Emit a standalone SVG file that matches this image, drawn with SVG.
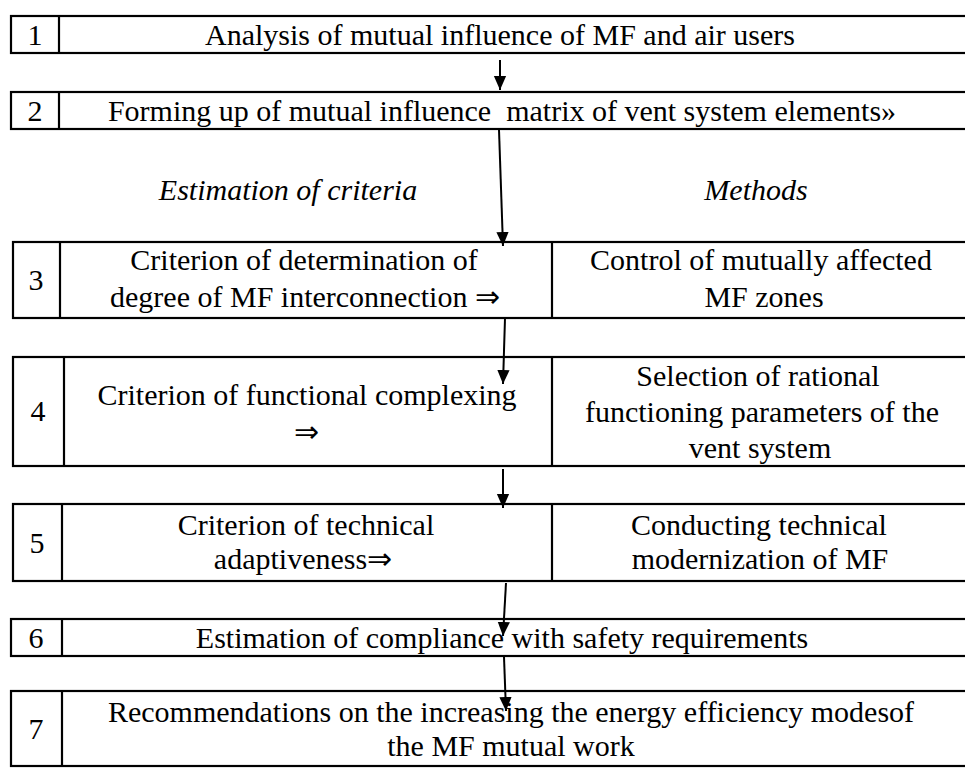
<svg xmlns="http://www.w3.org/2000/svg" width="965" height="768" viewBox="0 0 965 768">
<defs>
<style>
.box{fill:#fff;stroke:#000;stroke-width:2.2}
.div{stroke:#000;stroke-width:2.2}
.t{font-family:"Liberation Serif","Times New Roman",serif;font-size:30px;fill:#000;text-anchor:middle}
.it{font-style:italic}
.con{stroke:#000;stroke-width:2;fill:none;marker-end:url(#ah)}
</style>
<marker id="ah" markerUnits="userSpaceOnUse" markerWidth="14" markerHeight="16" refX="16" refY="7" orient="auto" viewBox="0 0 16 14">
<path d="M0,0 L16,7 L0,14 z" fill="#000"/>
</marker>
</defs>
<rect width="965" height="768" fill="#fff"/>
<g id="node1">
<rect class="box" x="11" y="16" width="970" height="37"/>
<line class="div" x1="59" y1="16" x2="59" y2="53"/>
<text class="t" x="35" y="45">1</text>
<text class="t" x="500" y="45">Analysis of mutual influence of MF and air users</text>
</g>
<g id="node2">
<rect class="box" x="11" y="92" width="970" height="37"/>
<line class="div" x1="59" y1="92" x2="59" y2="129"/>
<text class="t" x="35" y="121">2</text>
<text class="t" x="502" y="121" xml:space="preserve">Forming up of mutual influence  matrix of vent system elements»</text>
</g>
<g id="labels">
<text class="t it" x="288" y="200">Estimation of criteria</text>
<text class="t it" x="756" y="200">Methods</text>
</g>
<g id="node3">
<rect class="box" x="13" y="242" width="970" height="76"/>
<line class="div" x1="60" y1="242" x2="60" y2="318"/>
<line class="div" x1="552" y1="242" x2="552" y2="318"/>
<text class="t" x="36" y="290">3</text>
<text class="t" x="304" y="270">Criterion of determination of</text>
<text class="t" x="305" y="307">degree of MF interconnection ⇒</text>
<text class="t" x="761" y="270">Control of mutually affected</text>
<text class="t" x="764" y="307">MF zones</text>
</g>
<g id="node4">
<rect class="box" x="13" y="357" width="970" height="109"/>
<line class="div" x1="64" y1="357" x2="64" y2="466"/>
<line class="div" x1="552" y1="357" x2="552" y2="466"/>
<text class="t" x="38" y="421">4</text>
<text class="t" x="307" y="405">Criterion of functional complexing</text>
<text class="t" x="306" y="442">⇒</text>
<text class="t" x="758" y="386">Selection of rational</text>
<text class="t" x="762" y="422">functioning parameters of the</text>
<text class="t" x="760" y="458">vent system</text>
</g>
<g id="node5">
<rect class="box" x="13" y="504" width="970" height="77"/>
<line class="div" x1="62" y1="504" x2="62" y2="581"/>
<line class="div" x1="552" y1="504" x2="552" y2="581"/>
<text class="t" x="37" y="553">5</text>
<text class="t" x="306" y="535">Criterion of technical</text>
<text class="t" x="303" y="569">adaptiveness⇒</text>
<text class="t" x="759" y="535">Conducting technical</text>
<text class="t" x="760" y="569">modernization of MF</text>
</g>
<g id="node6">
<rect class="box" x="11" y="619" width="970" height="37"/>
<line class="div" x1="62" y1="619" x2="62" y2="656"/>
<text class="t" x="36" y="648">6</text>
<text class="t" x="502" y="648">Estimation of compliance with safety requirements</text>
</g>
<g id="node7">
<rect class="box" x="11" y="691" width="970" height="75"/>
<line class="div" x1="62" y1="691" x2="62" y2="766"/>
<text class="t" x="36" y="739">7</text>
<text class="t" x="511" y="722">Recommendations on the increasing the energy efficiency modesof</text>
<text class="t" x="511" y="756">the MF mutual work</text>
</g>
<g id="connectors">
<line class="con" x1="500" y1="60" x2="500" y2="90"/>
<line class="con" x1="499" y1="130" x2="503" y2="246"/>
<line class="con" x1="505" y1="318" x2="503" y2="384"/>
<line class="con" x1="503" y1="469" x2="503" y2="508"/>
<line class="con" x1="506" y1="583" x2="503" y2="636"/>
<line class="con" x1="504" y1="657" x2="506" y2="711"/>
</g>
</svg>
